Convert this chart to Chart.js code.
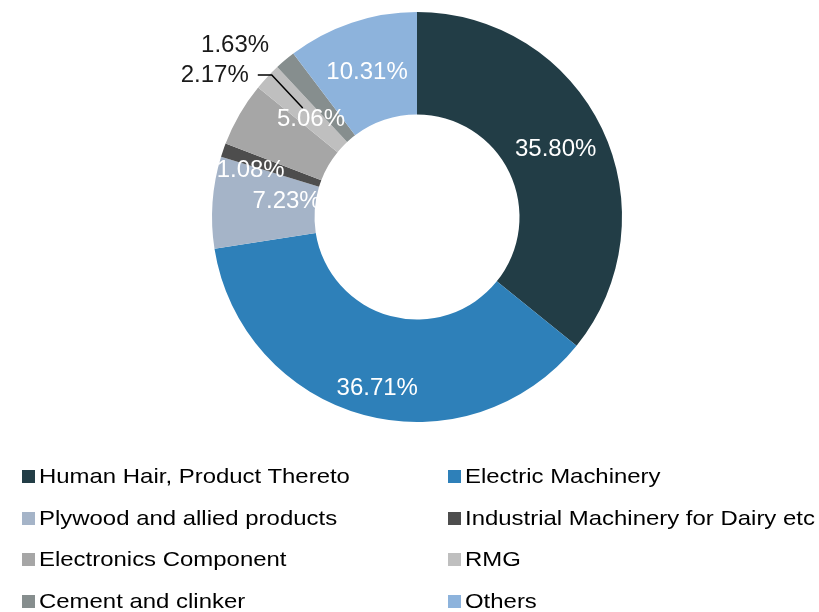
<!DOCTYPE html>
<html>
<head>
<meta charset="utf-8">
<script src="https://cdn.jsdelivr.net/npm/chart.js@4.4.1/dist/chart.umd.min.js"></script>
<style>
  html, body { margin: 0; padding: 0; background: #ffffff; }
  #wrap { position: relative; width: 819px; height: 612px; overflow: hidden; }
  #chartBox { position: absolute; left: 0; top: 0; width: 819px; height: 434px; }
  #legend { position: absolute; left: 0; top: 0; width: 819px; height: 612px; pointer-events: none; }
  .item { position: absolute; height: 24px; }
  .sw { position: absolute; left: 0; top: 6px; width: 13px; height: 13px; }
  .tx { position: absolute; left: 17px; top: 0; line-height: 24px; font-family: "Liberation Sans", Arial, sans-serif; font-size: 21px; color: #000000; white-space: nowrap; transform: scaleX(1.14); transform-origin: 0 50%; }
</style>
</head>
<body>
<div id="wrap">
  <div id="chartBox"><canvas id="c"></canvas></div>
  <div id="legend"></div>
</div>
<script>
// ---- data ----
const categories = [
  "Human Hair, Product Thereto",
  "Electric Machinery",
  "Plywood and allied products",
  "Industrial Machinery for Dairy etc",
  "Electronics Component",
  "RMG",
  "Cement and clinker",
  "Others"
];
const shares = [35.80, 36.71, 7.23, 1.08, 5.06, 2.17, 1.63, 10.31];
const valueLabels = ["35.80%", "36.71%", "7.23%", "1.08%", "5.06%", "2.17%", "1.63%", "10.31%"];

// ---- styles ----
const colors = ["#223d46", "#2e80b9", "#a5b4c8", "#4d4d4d", "#a6a6a6", "#bfbfbf", "#868e8e", "#8db3dc"];
const labelColors = ["#ffffff", "#ffffff", "#ffffff", "#ffffff", "#ffffff", "#1a1a1a", "#1a1a1a", "#ffffff"];
// offsets of each label from the slice's centre point (px)
const labelOffsets = [[0, -1], [0, 23], [23, -5], [-21, 4], [27, -21], [-90, -37], [-83, -54], [-1, 1]];
const leaderLines = [false, false, false, false, false, true, false, false];

const labelPlugin = {
  id: 'sliceLabels',
  afterDatasetsDraw(chart) {
    const ctx = chart.ctx;
    const meta = chart.getDatasetMeta(0);
    ctx.save();
    ctx.font = '24px "Liberation Sans", Arial, sans-serif';
    ctx.textAlign = 'center';
    ctx.textBaseline = 'middle';
    meta.data.forEach((arc, i) => {
      const p = arc.getCenterPoint();
      const x = p.x + labelOffsets[i][0];
      const y = p.y + labelOffsets[i][1];
      if (leaderLines[i]) {
        const w = ctx.measureText(valueLabels[i]).width;
        const sx = x + w / 2 + 9;
        ctx.strokeStyle = '#000000';
        ctx.lineWidth = 1.5;
        ctx.beginPath();
        ctx.moveTo(sx, y);
        ctx.lineTo(sx + 14, y);
        ctx.lineTo(p.x - 2, p.y - 4);
        ctx.stroke();
      }
      ctx.fillStyle = labelColors[i];
      ctx.fillText(valueLabels[i], x, y);
    });
    ctx.restore();
  }
};

new Chart(document.getElementById('c'), {
  type: 'doughnut',
  data: {
    labels: categories,
    datasets: [{
      data: shares,
      backgroundColor: colors,
      borderWidth: 0
    }]
  },
  options: {
    responsive: true,
    maintainAspectRatio: false,
    animation: false,
    cutout: '50%',
    layout: { padding: { top: 12, bottom: 12, left: 15, right: 0 } },
    plugins: {
      legend: { display: false },
      tooltip: { enabled: false }
    }
  },
  plugins: [labelPlugin]
});

// ---- legend (two columns) ----
const legend = document.getElementById('legend');
const colX = [22, 448];
const rowY = [476.5, 518, 559.5, 601];
categories.forEach((name, i) => {
  const d = document.createElement('div');
  d.className = 'item';
  d.style.left = colX[i % 2] + 'px';
  d.style.top = (rowY[Math.floor(i / 2)] - 12.5) + 'px';
  const s = document.createElement('span');
  s.className = 'sw';
  s.style.background = colors[i];
  const t = document.createElement('span');
  t.className = 'tx';
  t.textContent = name;
  d.appendChild(s);
  d.appendChild(t);
  legend.appendChild(d);
});
</script>
</body>
</html>
